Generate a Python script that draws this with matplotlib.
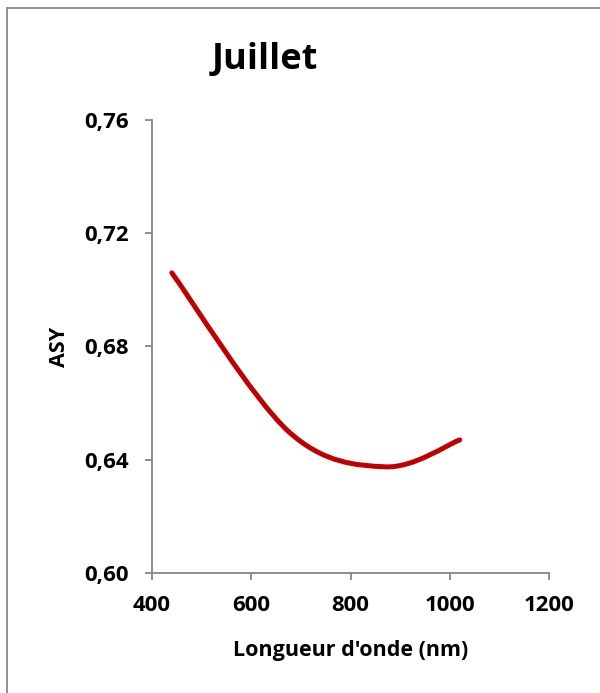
import matplotlib
matplotlib.use("Agg")
import matplotlib.pyplot as plt
from matplotlib.path import Path
from matplotlib.patches import PathPatch, Rectangle
from matplotlib.ticker import FuncFormatter

plt.rcParams['font.family'] = ['Open Sans', 'DejaVu Sans']
plt.rcParams['font.weight'] = 'bold'
plt.rcParams['axes.labelweight'] = 'bold'

# Data
wavelength = [440, 675, 870, 1020]
asy = [0.706, 0.650, 0.6375, 0.647]
x_ticks = [400, 600, 800, 1000, 1200]
y_ticks = [0.60, 0.64, 0.68, 0.72, 0.76]
title = "Juillet"
xlabel = "Longueur d'onde (nm)"
ylabel = "ASY"

W, H = 600, 693
fig = plt.figure(figsize=(W / 100, H / 100), dpi=100)
ax = fig.add_axes([152 / W, (H - 573) / H, 397 / W, 453 / H])

# Excel-like smoothed line (cubic Bezier through the data points)
pts = list(zip(wavelength, asy))
n = len(pts)
verts = [pts[0]]
codes = [Path.MOVETO]
for i in range(n - 1):
    p0 = pts[i - 1] if i > 0 else pts[i]
    p1 = pts[i]
    p2 = pts[i + 1]
    p3 = pts[i + 2] if i + 2 < n else pts[i + 1]
    c1 = (p1[0] + (p2[0] - p0[0]) / 6, p1[1] + (p2[1] - p0[1]) / 6)
    c2 = (p2[0] - (p3[0] - p1[0]) / 6, p2[1] - (p3[1] - p1[1]) / 6)
    verts += [c1, c2, p2]
    codes += [Path.CURVE4] * 3
ax.add_patch(PathPatch(Path(verts, codes), fill=False, edgecolor='#C00000',
                       lw=3.6, capstyle='round', joinstyle='round'))

ax.set_xlim(400, 1200)
ax.set_ylim(0.60, 0.76)
ax.set_xticks(x_ticks)
ax.set_yticks(y_ticks)
ax.yaxis.set_major_formatter(FuncFormatter(lambda v, p: f"{v:.2f}".replace('.', ',')))

for s in ['top', 'right']:
    ax.spines[s].set_visible(False)
for s in ['left', 'bottom']:
    ax.spines[s].set_color('#868686')
    ax.spines[s].set_linewidth(1.3)
ax.tick_params(axis='both', direction='out', length=5, width=1.3, color='#868686',
               labelsize=16)
ax.tick_params(axis='y', pad=12)
ax.tick_params(axis='x', pad=11)

ax.set_xlabel(xlabel, fontsize=15.5, fontweight='bold', labelpad=17)
ax.set_ylabel(ylabel, fontsize=15.5, fontweight='bold', labelpad=10)
fig.text(265 / W, 1 - 60 / H, title, fontsize=26, fontweight='bold',
         ha='center', va='center')

# Chart-area border
fig.patches.append(Rectangle((6.5 / W, -0.05), 1.1, (H - 7.5) / H + 0.05,
                             transform=fig.transFigure, fill=False,
                             edgecolor='#888888', lw=1.3))

fig.savefig("out.png", dpi=100)
